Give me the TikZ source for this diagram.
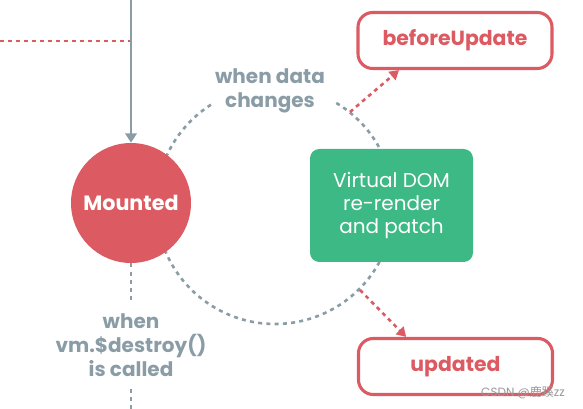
\documentclass[tikz,border=0pt]{standalone}
\usepackage{fontspec}
\setmainfont{Poppins}
\newfontfamily\cjkfont{Noto Sans CJK SC}
\usetikzlibrary{arrows.meta}
\definecolor{vred}{HTML}{DC5A62}
\definecolor{vgray}{HTML}{8A9CA6}
\definecolor{vgreen}{HTML}{3DB985}
\tikzset{
  graydash/.style={draw=vgray, line width=2.6pt*0.75, dash pattern=on 3pt off 3.2pt},
  reddash/.style={draw=vred, line width=2.6pt*0.75, dash pattern=on 3pt off 3pt},
  hookbox/.style={draw=vred, line width=2.3pt, fill=white, rounded corners=11pt, minimum width=194*0.75pt, minimum height=56*0.75pt, inner sep=0pt, text=vred, font=\fontsize{15.3}{18}\selectfont\bfseries},
  graytxt/.style={text=vgray, font=\fontsize{15}{18}\selectfont\bfseries, align=center, inner sep=0pt},
}
\begin{document}
\begin{tikzpicture}[x=0.75pt, y=-0.75pt]
\useasboundingbox (0,0) rectangle (583,409);
% big dashed cycle (center 275,205 r 119)
\draw[graydash] (275,205) ++(-59:119) arc[start angle=-59, end angle=239, radius=119];
% red dotted left line
\coordinate (lstart) at (0,41);
\coordinate (ljoin) at (131,41);
\draw[reddash] (lstart) -- (ljoin);
% vertical arrow
\coordinate (top) at (131,0);
\node[circle, fill=vred, minimum size=120*0.75pt, inner sep=0pt, text=white, font=\fontsize{15.5}{18}\selectfont\bfseries] (mounted) at (131,203) {Mounted};
\draw[draw=vgray, line width=2.2pt, -{Triangle[length=7pt, width=8.5pt]}] (top) -- (mounted.north);
% green box
\node[fill=vgreen, rounded corners=7pt, minimum width=163*0.75pt, minimum height=113*0.75pt, inner sep=0pt, text=white, align=center, font=\fontsize{15}{17.6}\selectfont] (vdom) at (391.5,205.5) {Virtual DOM\\re-render\\and patch};
% labels
\node[graytxt] (wdc) at (270,91) {when data\\changes};
\node[graytxt] (wdes) at (131,345) {when\\vm.\$destroy()\\is called};
\coordinate (bot) at (131,409);
\draw[graydash] (mounted.south) -- ([yshift=9pt]wdes.north);
\draw[graydash] ([yshift=-9pt]wdes.south) -- (bot);
% hooks
\node[hookbox] (before) at (455,40.5) {beforeUpdate};
\node[hookbox] (updated) at (455.5,366.5) {updated};
\coordinate (bu0) at (350,112);
\coordinate (up0) at (360,290);
\draw[reddash, -{Triangle[length=7pt, width=8pt]}] (bu0) -- ([xshift=-42pt]before.south);
\draw[reddash, -{Triangle[length=7pt, width=8pt]}] (up0) -- ([xshift=-37pt]updated.north);
% watermark
\node[text=gray!80, font=\fontsize{9}{10}\selectfont, inner sep=0pt] (wm) at (523,393) {CSDN @{\cjkfont 鹿蹊}zz};
\end{tikzpicture}
\end{document}
